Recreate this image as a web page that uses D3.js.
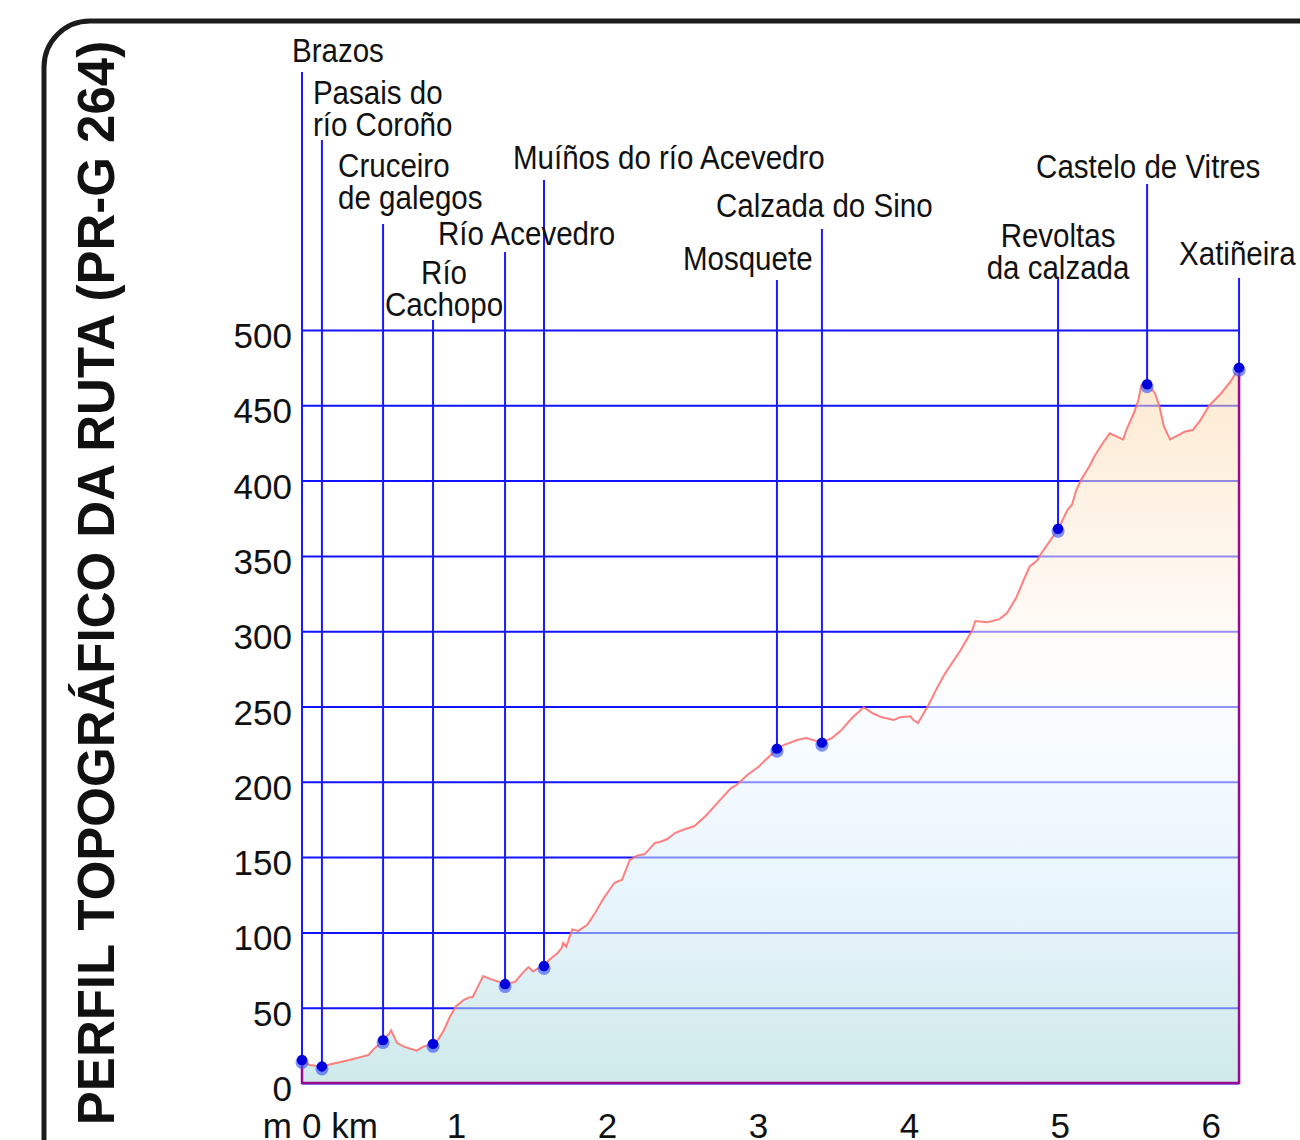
<!DOCTYPE html>
<html>
<head>
<meta charset="utf-8">
<script src="https://cdnjs.cloudflare.com/ajax/libs/d3/7.8.5/d3.min.js"></script>
<style>
  body { margin: 0; background: #fff; }
  svg { display: block; }
  text { font-family: "Liberation Sans", Arial, Helvetica, sans-serif; fill: #111; }
</style>
</head>
<body>
<svg id="chart"></svg>
<script>
// route profile (km, m)
const profileKm = [0, 0.05, 0.13, 0.21, 0.30, 0.38, 0.44, 0.47, 0.52, 0.54, 0.58, 0.59, 0.63, 0.68, 0.76, 0.80,
  0.87, 0.90, 0.94, 0.98, 1.02, 1.07, 1.11, 1.13, 1.16, 1.20, 1.25, 1.31, 1.35, 1.41, 1.47, 1.50, 1.53, 1.56,
  1.60, 1.64, 1.69, 1.72, 1.73, 1.75, 1.79, 1.83, 1.89, 1.94, 2.00, 2.07, 2.12, 2.15, 2.17, 2.22, 2.27, 2.34,
  2.37, 2.42, 2.47, 2.52, 2.60, 2.68, 2.77, 2.84, 2.88, 2.95, 3.03, 3.07, 3.15, 3.19, 3.28, 3.34, 3.41, 3.44,
  3.51, 3.57, 3.64, 3.72, 3.78, 3.84, 3.92, 3.96, 4.03, 4.05, 4.08, 4.15, 4.21, 4.26, 4.36, 4.44, 4.46, 4.54,
  4.62, 4.67, 4.73, 4.78, 4.82, 4.87, 4.89, 5.01, 5.07, 5.10, 5.13, 5.16, 5.22, 5.25, 5.31, 5.35, 5.40, 5.44,
  5.46, 5.51, 5.54, 5.56, 5.60, 5.65, 5.68, 5.71, 5.75, 5.80, 5.85, 5.90, 5.95, 6.01, 6.08, 6.15, 6.207];
const profileElev = [15, 12, 11, 13, 15, 17, 18.6, 22, 26.5, 28.5, 33, 35, 26.5, 24, 21.5, 24,
  26, 28.5, 35, 44, 51, 55, 57, 57, 63, 71, 69, 67, 66, 67, 74, 77, 74, 76,
  77.5, 82, 86, 89.6, 93, 90.5, 102, 101, 105, 112.7, 123, 133, 135, 142.7, 148, 151, 152, 159.6,
  160, 162, 166, 168, 170.6, 178, 188, 195.7, 198, 204.5, 210.5, 214.5, 222, 224.4, 227.7, 229, 227, 226,
  229, 234, 242, 249.5, 245.5, 242.8, 241, 242.8, 243.5, 241, 239, 251, 263, 272, 287, 300.8, 306.8, 306,
  308, 312, 322, 334, 343, 347, 350.6, 368, 380.5, 384, 394, 400.4, 410.4, 416.3, 425.8, 431.4, 429, 427.4,
  433.6, 444.7, 453.5, 463.5, 464.6, 458, 449, 435.8, 427.4, 430, 432.6, 433.6, 440, 450, 457, 465.7, 475];

// named waypoints
const waypointNames = [["Brazos"], ["Pasais do", "río Coroño"], ["Cruceiro", "de galegos"], ["Río", "Cachopo"],
  ["Río Acevedro"], ["Muíños do río Acevedro"], ["Mosquete"], ["Calzada do Sino"],
  ["Revoltas", "da calzada"], ["Castelo de Vitres"], ["Xatiñeira"]];
const waypointKm = [0, 0.132, 0.537, 0.868, 1.345, 1.603, 3.146, 3.444, 5.008, 5.598, 6.207];
const waypointElev = [15.3, 11, 28.5, 26, 65.7, 77.7, 222, 226, 368, 464, 475];

const yTicks = [0, 50, 100, 150, 200, 250, 300, 350, 400, 450, 500];
const xTicks = [1, 2, 3, 4, 5, 6];

// where each label sits relative to its leader line
const labelLayout = [
  { dx: -10, base: 62, top: 72, anchor: 'start' },
  { dx: -9, base: 104, top: 140, anchor: 'start' },
  { dx: -45, base: 177, top: 224, anchor: 'start' },
  { dx: 11, base: 284, top: 320, anchor: 'middle' },
  { dx: -67, base: 245, top: 252, anchor: 'start' },
  { dx: -31, base: 169, top: 180, anchor: 'start' },
  { dx: -94, base: 270, top: 280, anchor: 'start' },
  { dx: -106, base: 217, top: 229, anchor: 'start' },
  { dx: 0, base: 247, top: 277, anchor: 'middle' },
  { dx: -111, base: 178, top: 184, anchor: 'start' },
  { dx: -60, base: 265, top: 278, anchor: 'start' }
];

const width = 1300, height = 1140;
const svg = d3.select('#chart').attr('width', width).attr('height', height);

const x = d3.scaleLinear().domain([0, 6.2]).range([302, 1238]);
const y = d3.scaleLinear().domain([0, 500]).range([1083, 330]);
const xEnd = x(profileKm[profileKm.length - 1]);

const profile = profileKm.map((k, i) => ({ km: k, m: profileElev[i] }));
const waypoints = waypointKm.map((k, i) => ({ km: k, m: waypointElev[i], name: waypointNames[i], lay: labelLayout[i] }));

// area gradient
const grad = svg.append('defs').append('linearGradient')
    .attr('id', 'fillGrad')
    .attr('gradientUnits', 'userSpaceOnUse')
    .attr('x1', 0).attr('x2', 0)
    .attr('y1', y(500)).attr('y2', y(0));
[[0, '#fbd3a0'], [0.3, '#fdeedc'], [0.45, '#fefcf9'], [0.52, '#f4faff'], [0.75, '#d6ecfb'], [1, '#a8d8d8']]
  .forEach(s => grad.append('stop').attr('offset', s[0]).attr('stop-color', s[1]));

// horizontal grid + y labels
const yAxisG = svg.append('g')
    .attr('transform', `translate(${x(0)},0)`)
    .call(d3.axisLeft(y).tickValues(yTicks).tickSize(-(xEnd - x(0))).tickPadding(10));
yAxisG.select('.domain').remove();
yAxisG.selectAll('line').attr('stroke', '#1212ff').attr('stroke-width', 2);
yAxisG.selectAll('text')
    .attr('font-size', 35)
    .attr('dy', '0.5em');

// leader lines
svg.append('g').selectAll('line')
  .data(waypoints)
  .join('line')
    .attr('x1', d => x(d.km)).attr('x2', d => x(d.km))
    .attr('y1', d => d.lay.top).attr('y2', d => y(d.m))
    .attr('stroke', '#1a1aff')
    .attr('stroke-width', 2);

// area
const area = d3.area().x(d => x(d.km)).y0(y(0)).y1(d => y(d.m));
svg.append('path')
    .datum(profile)
    .attr('d', area)
    .attr('fill', 'url(#fillGrad)')
    .attr('fill-opacity', 0.55);

// purple outline on sides and base
const first = profile[0], last = profile[profile.length - 1];
svg.append('path')
    .attr('d', `M${x(first.km)},${y(first.m)}V${y(0)}H${x(last.km)}V${y(last.m)}`)
    .attr('fill', 'none')
    .attr('stroke', '#990a8f')
    .attr('stroke-width', 2.5);

// profile line
svg.append('path')
    .datum(profile)
    .attr('d', d3.line().x(d => x(d.km)).y(d => y(d.m)))
    .attr('fill', 'none')
    .attr('stroke', '#ff6a6a')
    .attr('stroke-opacity', 0.85)
    .attr('stroke-width', 2);

// dots
const dots = svg.append('g');
dots.selectAll('circle.halo')
  .data(waypoints)
  .join('circle')
    .attr('class', 'halo')
    .attr('cx', d => x(d.km)).attr('cy', d => y(d.m) + 2.5)
    .attr('r', 6.5)
    .attr('fill', '#3a55ff')
    .attr('fill-opacity', 0.65);
dots.selectAll('circle.core')
  .data(waypoints)
  .join('circle')
    .attr('class', 'core')
    .attr('cx', d => x(d.km)).attr('cy', d => y(d.m))
    .attr('r', 5.2)
    .attr('fill', '#0000dd');

// waypoint labels
const labels = svg.append('g').selectAll('text')
  .data(waypoints)
  .join('text')
    .attr('transform', d => `translate(${x(d.km) + d.lay.dx},${d.lay.base}) scale(0.895,1)`)
    .attr('text-anchor', d => d.lay.anchor)
    .attr('font-size', 33);
labels.selectAll('tspan')
  .data(d => d.name)
  .join('tspan')
    .attr('x', 0)
    .attr('dy', (d, i) => i === 0 ? 0 : 32)
    .text(d => d);

// x axis labels
const xAxisG = svg.append('g')
    .attr('transform', `translate(0,${y(0)})`)
    .call(d3.axisBottom(x).tickValues(xTicks).tickSize(0).tickPadding(0).tickFormat(d3.format('d')));
xAxisG.select('.domain').remove();
xAxisG.selectAll('text')
    .attr('font-size', 35)
    .attr('y', 55)
    .attr('dy', 0)
    .attr('dx', 3);

svg.append('text')
    .attr('x', x(0)).attr('y', y(0) + 55)
    .attr('font-size', 35)
    .text('0 km');
svg.append('text')
    .attr('x', 292).attr('y', y(0) + 55)
    .attr('text-anchor', 'end')
    .attr('font-size', 35)
    .text('m');

// title
svg.append('text')
    .attr('transform', 'translate(114,583) rotate(-90)')
    .attr('text-anchor', 'middle')
    .attr('font-size', 51)
    .attr('font-weight', 'bold')
    .text('PERFIL TOPOGRÁFICO DA RUTA (PR-G 264)');

// frame
svg.append('rect')
    .attr('x', 44).attr('y', 21)
    .attr('width', 1400).attr('height', 1400)
    .attr('rx', 46)
    .attr('fill', 'none')
    .attr('stroke', '#1c1c1c')
    .attr('stroke-width', 5);
</script>
</body>
</html>
